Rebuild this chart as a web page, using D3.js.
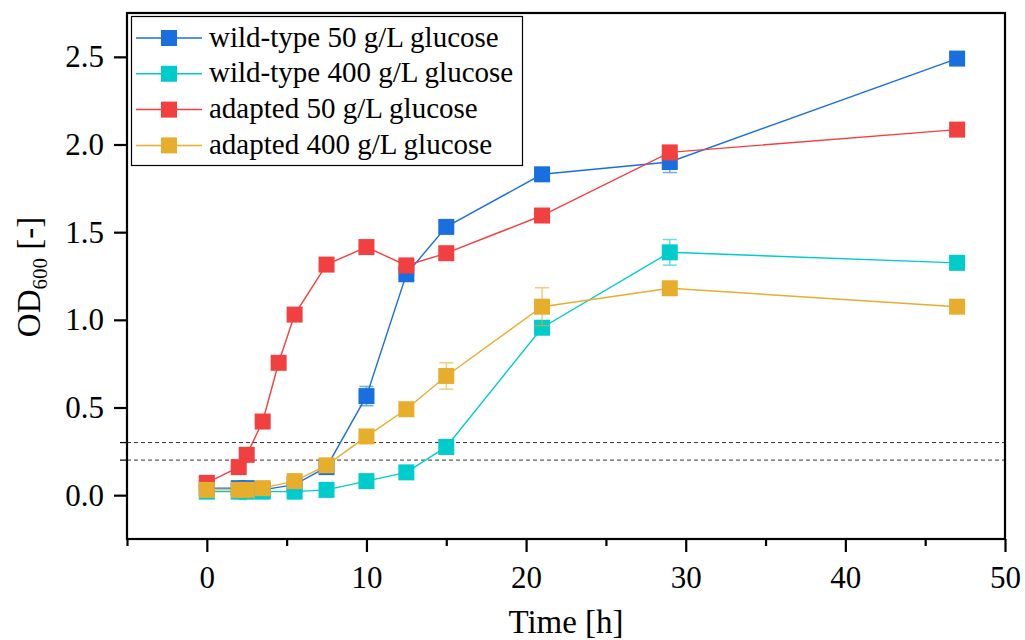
<!DOCTYPE html>
<html>
<head>
<meta charset="utf-8">
<script src="https://cdn.jsdelivr.net/npm/d3@7"></script>
<style>
  html, body { margin: 0; padding: 0; background: #fff; }
  svg { display: block; }
  svg text { font-family: "Liberation Serif", "Times New Roman", serif; fill: #000; }
</style>
</head>
<body>
<svg id="chart" width="1025" height="640"></svg>
<script>
// Growth curves: OD600 over time for wild-type and adapted strains
const seriesNames = [
  "wild-type 50 g/L glucose",
  "wild-type 400 g/L glucose",
  "adapted 50 g/L glucose",
  "adapted 400 g/L glucose"
];
const seriesColors = ["#1a6fdf", "#00cccc", "#f24040", "#e6ae2c"];

const wt50Time = [0, 2, 2.5, 3.5, 5.5, 7.5, 10, 12.5, 15, 21, 29, 47];
const wt50OD   = [0.04, 0.04, 0.04, 0.03, 0.06, 0.16, 0.565, 1.26, 1.53, 1.83, 1.90, 2.49];
const wt50Err  = [0.01, 0.01, 0.01, 0.01, 0.01, 0.01, 0.055, 0.03, 0.03, 0.02, 0.06, 0.01];

const wt400Time = [0, 2, 2.5, 3.5, 5.5, 7.5, 10, 12.5, 15, 21, 29, 47];
const wt400OD   = [0.02, 0.02, 0.02, 0.02, 0.02, 0.03, 0.08, 0.13, 0.275, 0.955, 1.385, 1.325];
const wt400Err  = [0.01, 0.01, 0.01, 0.01, 0.01, 0.01, 0.01, 0.01, 0.01, 0.02, 0.073, 0.01];

const ad50Time = [0, 2, 2.5, 3.5, 4.5, 5.5, 7.5, 10, 12.5, 15, 21, 29, 47];
const ad50OD   = [0.07, 0.16, 0.23, 0.42, 0.755, 1.03, 1.315, 1.415, 1.31, 1.38, 1.595, 1.955, 2.085];
const ad50Err  = [0.01, 0.01, 0.01, 0.01, 0.01, 0.01, 0.01, 0.01, 0.04, 0.01, 0.01, 0.035, 0.01];

const ad400Time = [0, 2, 2.5, 3.5, 5.5, 7.5, 10, 12.5, 15, 21, 29, 47];
const ad400OD   = [0.03, 0.03, 0.03, 0.04, 0.08, 0.17, 0.335, 0.49, 0.68, 1.075, 1.18, 1.075];
const ad400Err  = [0.01, 0.01, 0.01, 0.01, 0.01, 0.01, 0.01, 0.01, 0.075, 0.108, 0.01, 0.03];

const xTicks = [0, 10, 20, 30, 40, 50];
const xMinorTicks = [-5, 5, 15, 25, 35, 45];
const yTicks = [0, 0.5, 1.0, 1.5, 2.0, 2.5];
const thresholds = [0.2, 0.3];

const series = [
  { name: seriesNames[0], color: seriesColors[0], t: wt50Time,  v: wt50OD,  e: wt50Err },
  { name: seriesNames[1], color: seriesColors[1], t: wt400Time, v: wt400OD, e: wt400Err },
  { name: seriesNames[2], color: seriesColors[2], t: ad50Time,  v: ad50OD,  e: ad50Err },
  { name: seriesNames[3], color: seriesColors[3], t: ad400Time, v: ad400OD, e: ad400Err }
].map(s => ({ ...s, pts: s.t.map((t, i) => ({ t, v: s.v[i], e: s.e[i] })) }));

const svg = d3.select("#chart");
const plot = { left: 127, right: 1005, top: 13, bottom: 539 };

const x = d3.scaleLinear().domain([-5, 50]).range([plot.left, plot.right]);
const y = d3.scaleLinear().domain([-0.25, 2.75]).range([plot.bottom, plot.top]);

// Threshold lines
thresholds.forEach(th => {
  svg.append("line")
    .attr("x1", plot.left - 7).attr("x2", plot.left)
    .attr("y1", y(th)).attr("y2", y(th))
    .attr("stroke", "#000").attr("stroke-width", 1.2);
  svg.append("line")
    .attr("x1", plot.left).attr("x2", plot.right)
    .attr("y1", y(th)).attr("y2", y(th))
    .attr("stroke", "#333").attr("stroke-width", 1)
    .attr("stroke-dasharray", "4,3");
});

// Series: connecting line, markers, error bars
const line = d3.line().x(d => x(d.t)).y(d => y(d.v));
const mk = 16;
const cap = 7;
series.forEach(s => {
  const g = svg.append("g");
  g.append("path").datum(s.pts)
    .attr("d", line).attr("fill", "none")
    .attr("stroke", s.color).attr("stroke-width", 1.4);
  g.selectAll("rect").data(s.pts).join("rect")
    .attr("x", d => x(d.t) - mk / 2).attr("y", d => y(d.v) - mk / 2)
    .attr("width", mk).attr("height", mk)
    .attr("fill", s.color);
  const eb = g.append("g").attr("stroke", s.color).attr("stroke-width", 1.5).attr("opacity", 0.6);
  s.pts.forEach(d => {
    const yt = y(d.v + d.e), yb = y(d.v - d.e), cx = x(d.t);
    eb.append("line").attr("x1", cx).attr("x2", cx).attr("y1", yt).attr("y2", yb);
    eb.append("line").attr("x1", cx - cap).attr("x2", cx + cap).attr("y1", yt).attr("y2", yt);
    eb.append("line").attr("x1", cx - cap).attr("x2", cx + cap).attr("y1", yb).attr("y2", yb);
  });
});

// Frame
svg.append("rect")
  .attr("x", plot.left).attr("y", plot.top)
  .attr("width", plot.right - plot.left).attr("height", plot.bottom - plot.top)
  .attr("fill", "none").attr("stroke", "#000").attr("stroke-width", 2.2);

// Axes
svg.append("g").attr("class", "axis").attr("transform", `translate(0,${plot.bottom})`)
  .call(d3.axisBottom(x).tickValues(xTicks).tickSize(13).tickSizeOuter(0).tickPadding(14).tickFormat(d3.format("d")));
svg.append("g").attr("class", "axis").attr("transform", `translate(0,${plot.bottom})`)
  .call(d3.axisBottom(x).tickValues(xMinorTicks).tickSize(7).tickSizeOuter(0).tickFormat(""));
svg.append("g").attr("class", "axis").attr("transform", `translate(${plot.left},0)`)
  .call(d3.axisLeft(y).tickValues(yTicks).tickSize(13).tickSizeOuter(0).tickPadding(10).tickFormat(d3.format(".1f")));

svg.selectAll(".axis").attr("font-family", null).attr("font-size", null);
svg.selectAll(".domain").remove();
svg.selectAll(".tick line").attr("stroke", "#000").attr("stroke-width", 2.2);
svg.selectAll(".tick text").attr("fill", "#000")
  .attr("font-family", "Liberation Serif")
  .style("font-family", "'Liberation Serif', serif").style("font-size", "31px");

// Axis titles
svg.append("text")
  .attr("x", 566).attr("y", 633)
  .attr("text-anchor", "middle")
  .style("font-size", "33px")
  .text("Time [h]");

const yl = svg.append("text")
  .attr("transform", "translate(40,277) rotate(-90)")
  .attr("text-anchor", "middle")
  .style("font-size", "33px");
yl.append("tspan").text("OD");
yl.append("tspan").attr("dy", 7).style("font-size", "21px").text("600");
yl.append("tspan").attr("dy", -7).text(" [-]");

// Legend
const leg = svg.append("g");
leg.append("rect")
  .attr("x", 131.5).attr("y", 16.5).attr("width", 391).attr("height", 149)
  .attr("fill", "#fff").attr("stroke", "#000").attr("stroke-width", 1.2);
series.forEach((s, i) => {
  const cy = 38 + i * 35.8;
  leg.append("line")
    .attr("x1", 136).attr("x2", 202).attr("y1", cy).attr("y2", cy)
    .attr("stroke", s.color).attr("stroke-width", 1.5);
  leg.append("rect")
    .attr("x", 169 - mk / 2).attr("y", cy - mk / 2).attr("width", mk).attr("height", mk)
    .attr("fill", s.color);
  leg.append("text")
    .attr("x", 209).attr("y", cy + 8.5)
    .style("font-size", "29px")
    .text(s.name);
});
</script>
</body>
</html>
